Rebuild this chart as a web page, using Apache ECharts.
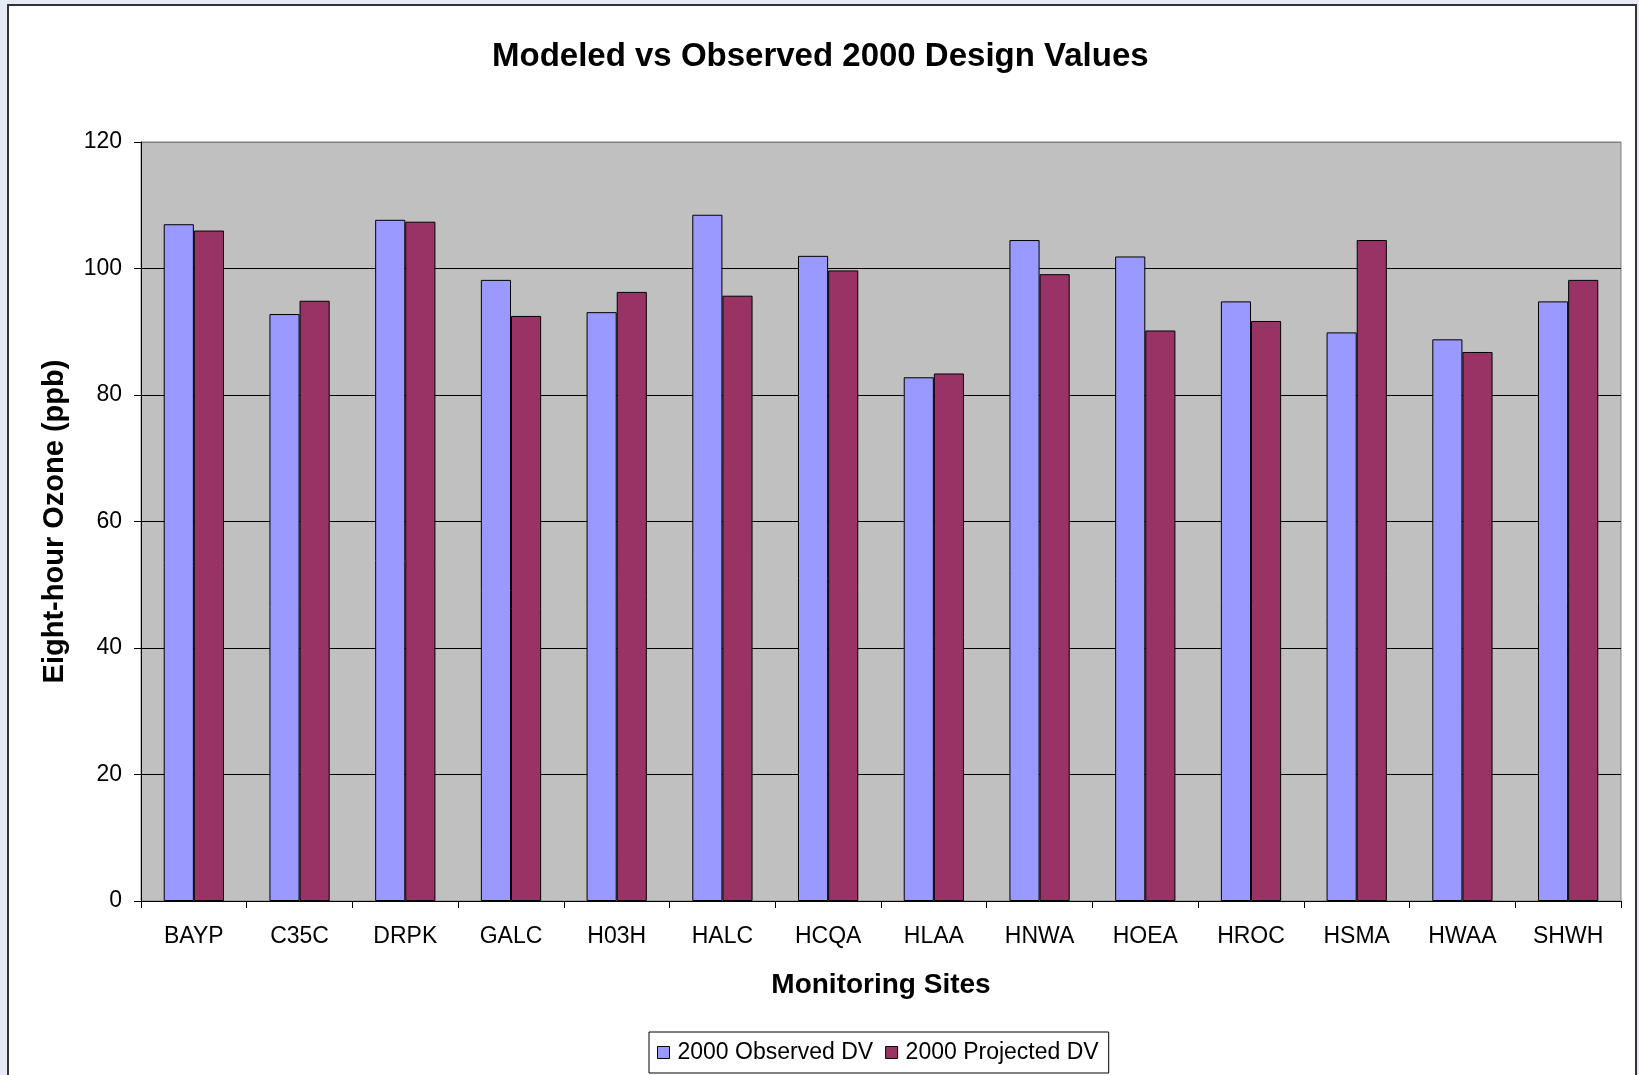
<!DOCTYPE html>
<html>
<head>
<meta charset="utf-8">
<script src="https://cdn.jsdelivr.net/npm/echarts@6/dist/echarts.min.js"></script>
<style>
html,body{margin:0;padding:0;background:#e6e9f6;}
#chart{width:1639px;height:1075px;}
</style>
</head>
<body>
<div id="chart"></div>
<script>
const sites = ['BAYP','C35C','DRPK','GALC','H03H','HALC','HCQA','HLAA','HNWA','HOEA','HROC','HSMA','HWAA','SHWH'];
const observed = [107, 92.8, 107.7, 98.2, 93.1, 108.5, 102, 82.8, 104.5, 101.9, 94.8, 89.9, 88.8, 94.8];
const projected = [106, 94.9, 107.4, 92.5, 96.3, 95.7, 99.7, 83.4, 99.1, 90.2, 91.7, 104.5, 86.8, 98.2];
const seriesNames = ['2000 Observed DV', '2000 Projected DV'];
const yTicks = [0, 20, 40, 60, 80, 100, 120];

const FONT = '"Liberation Sans", Arial, sans-serif';
const chart = echarts.init(document.getElementById('chart'), null, {renderer: 'canvas'});
chart.setOption({
  animation: false,
  backgroundColor: 'transparent',
  textStyle: {fontFamily: FONT},
  graphic: [{
    type: 'rect', z: -10, silent: true,
    shape: {x: 8, y: 5, width: 1628, height: 1090},
    style: {fill: '#ffffff', stroke: '#333333', lineWidth: 2}
  }],
  title: {
    text: 'Modeled vs Observed 2000 Design Values',
    left: 492, top: 40, padding: 0,
    textStyle: {fontFamily: FONT, fontSize: 33, fontWeight: 'bold', color: '#000'}
  },
  legend: {
    data: seriesNames,
    left: 649, top: 1032,
    padding: [9, 10, 9, 8],
    itemWidth: 12, itemHeight: 12, itemGap: 12,
    borderColor: '#000', borderWidth: 1, backgroundColor: '#fff',
    icon: 'rect',
    itemStyle: {borderColor: '#000', borderWidth: 1},
    textStyle: {fontFamily: FONT, fontSize: 23, color: '#000', padding: [0, 0, 0, 3]}
  },
  grid: {
    left: 141, top: 142, right: 18, bottom: 174,
    show: true, backgroundColor: '#c0c0c0', borderColor: '#808080', borderWidth: 1
  },
  xAxis: {
    type: 'category', data: sites,
    name: 'Monitoring Sites', nameLocation: 'middle', nameGap: 70,
    nameTextStyle: {fontFamily: FONT, fontSize: 28, fontWeight: 'bold', color: '#000'},
    axisLine: {show: true, lineStyle: {color: '#000', width: 1}},
    axisTick: {show: true, length: 7, lineStyle: {color: '#000'}},
    axisLabel: {fontFamily: FONT, fontSize: 23, color: '#000', margin: 24, interval: 0},
    splitLine: {show: false}
  },
  yAxis: {
    type: 'value', min: yTicks[0], max: yTicks[yTicks.length - 1], interval: 20,
    name: 'Eight-hour Ozone (ppb)', nameLocation: 'middle', nameGap: 72, nameRotate: 90,
    nameTextStyle: {fontFamily: FONT, fontSize: 29, fontWeight: 'bold', color: '#000'},
    axisLine: {show: true, lineStyle: {color: '#000', width: 1}},
    axisTick: {show: true, length: 7, lineStyle: {color: '#000'}},
    axisLabel: {fontFamily: FONT, fontSize: 23, color: '#000', margin: 19},
    splitLine: {show: true, lineStyle: {color: ['#000','#000','#000','#000','#000','#000','#808080'], width: 1}}
  },
  series: [
    {
      name: seriesNames[0], type: 'bar', data: observed,
      barGap: '0%', barCategoryGap: '43%',
      itemStyle: {color: '#9999ff', borderColor: '#000', borderWidth: 1}
    },
    {
      name: seriesNames[1], type: 'bar', data: projected,
      barGap: '0%', barCategoryGap: '43%',
      itemStyle: {color: '#993366', borderColor: '#000', borderWidth: 1}
    }
  ]
});
</script>
</body>
</html>
